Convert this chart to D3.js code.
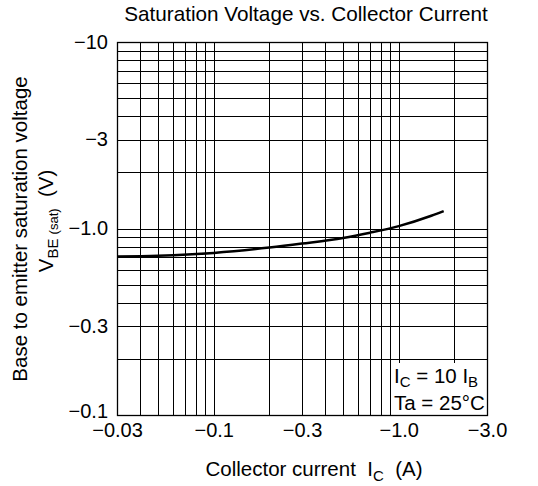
<!DOCTYPE html>
<html>
<head>
<meta charset="utf-8">
<script src="https://cdn.jsdelivr.net/npm/d3@7"></script>
<style>
  body { margin: 0; background: #fff; }
  text { font-family: "Liberation Sans", Arial, sans-serif; fill: #000; white-space: pre; }
</style>
</head>
<body>
<svg id="chart" width="538" height="486"></svg>
<script>
// collector current (A) and base-emitter saturation voltage (V)
const currentA = [-0.03, -0.05, -0.1, -0.2, -0.3, -0.5, -0.7, -1.0, -1.5, -1.75];
const vbeSat = [-0.708, -0.715, -0.74, -0.79, -0.83, -0.89, -0.95, -1.03, -1.17, -1.24];

const xTicks = [-0.03, -0.1, -0.3, -1.0, -3.0];
const xTickLabels = ["\u22120.03", "\u22120.1", "\u22120.3", "\u22121.0", "\u22123.0"];
const yTicks = [-0.1, -0.3, -1, -3, -10];
const yTickLabels = ["\u22120.1", "\u22120.3", "\u22121.0", "\u22123", "\u221210"];

const svg = d3.select("#chart");
const margin = { top: 42, right: 51, bottom: 71, left: 117 };
const width = +svg.attr("width") - margin.left - margin.right;
const height = +svg.attr("height") - margin.top - margin.bottom;

const x = d3.scaleLog().domain([-0.03, -3]).range([0, width]);
const y = d3.scaleLog().domain([-0.1, -10]).range([height, 0]);

const g = svg.append("g")
    .attr("transform", `translate(${margin.left},${margin.top})`);

// grid
g.append("g").selectAll("line")
    .data(x.ticks())
    .enter().append("line")
    .attr("x1", d => Math.round(x(d)) + 0.5).attr("x2", d => Math.round(x(d)) + 0.5)
    .attr("y1", 0).attr("y2", height)
    .attr("stroke", "#000").attr("stroke-width", 1);

g.append("g").selectAll("line")
    .data(y.ticks())
    .enter().append("line")
    .attr("y1", d => Math.round(y(d)) + 0.5).attr("y2", d => Math.round(y(d)) + 0.5)
    .attr("x1", 0).attr("x2", width)
    .attr("stroke", "#000").attr("stroke-width", 1);

// white box behind the test conditions
g.append("rect")
    .attr("x", x(-0.95)).attr("y", 321)
    .attr("width", width - x(-0.95)).attr("height", height - 321)
    .attr("fill", "#fff");

g.append("rect")
    .attr("x", 0.5).attr("y", 0.5)
    .attr("width", width).attr("height", height)
    .attr("fill", "none").attr("stroke", "#000").attr("stroke-width", 1.3);

// axes (labels only)
const xAxis = g.append("g")
    .attr("transform", `translate(0,${height})`)
    .call(d3.axisBottom(x).tickValues(xTicks).tickFormat((d, i) => xTickLabels[i]).tickSize(0).tickPadding(8));
xAxis.select(".domain").remove();
xAxis.selectAll("text").attr("font-size", 20).attr("font-family", null);

const yAxis = g.append("g")
    .call(d3.axisLeft(y).tickValues(yTicks).tickFormat((d, i) => yTickLabels[i]).tickSize(0).tickPadding(9));
yAxis.select(".domain").remove();
yAxis.selectAll("text").attr("font-size", 20).attr("font-family", null)
    .attr("dy", d => d === -0.1 ? "0.1em" : "0.32em");

// curve
const line = d3.line()
    .x((d, i) => x(currentA[i]))
    .y(d => y(d))
    .curve(d3.curveMonotoneX);

g.append("path")
    .datum(vbeSat)
    .attr("fill", "none")
    .attr("stroke", "#000")
    .attr("stroke-width", 2.5)
    .attr("d", line);

// title
svg.append("text")
    .attr("x", 306).attr("y", 21)
    .attr("text-anchor", "middle")
    .attr("font-size", 20.7)
    .text("Saturation Voltage vs. Collector Current");

// x axis title
const xt = svg.append("text")
    .attr("x", 314).attr("y", 476)
    .attr("text-anchor", "middle")
    .attr("font-size", 20.5);
xt.append("tspan").text("Collector current  I");
xt.append("tspan").attr("font-size", 15).attr("dy", 5).text("C");
xt.append("tspan").attr("dy", -5).text("  (A)");

// y axis titles
svg.append("text")
    .attr("transform", "translate(27,229) rotate(-90)")
    .attr("text-anchor", "middle")
    .attr("font-size", 20.5)
    .text("Base to emitter saturation voltage");

const yt = svg.append("text")
    .attr("transform", "translate(53,221) rotate(-90)")
    .attr("text-anchor", "middle")
    .attr("font-size", 20.5);
yt.append("tspan").text("V");
yt.append("tspan").attr("font-size", 15).attr("dy", 5).text("BE ");
yt.append("tspan").attr("font-size", 13).text("(sat)");
yt.append("tspan").attr("font-size", 20.5).attr("dy", -5).text("  (V)");

// conditions
const c1 = svg.append("text").attr("x", 394).attr("y", 383).attr("font-size", 20.5);
c1.append("tspan").text("I");
c1.append("tspan").attr("font-size", 15).attr("dy", 4).text("C");
c1.append("tspan").attr("dy", -4).text(" = 10 I");
c1.append("tspan").attr("font-size", 15).attr("dy", 4).text("B");

svg.append("text").attr("x", 394).attr("y", 410).attr("font-size", 20.5)
    .text("Ta = 25\u00B0C");
</script>
</body>
</html>
